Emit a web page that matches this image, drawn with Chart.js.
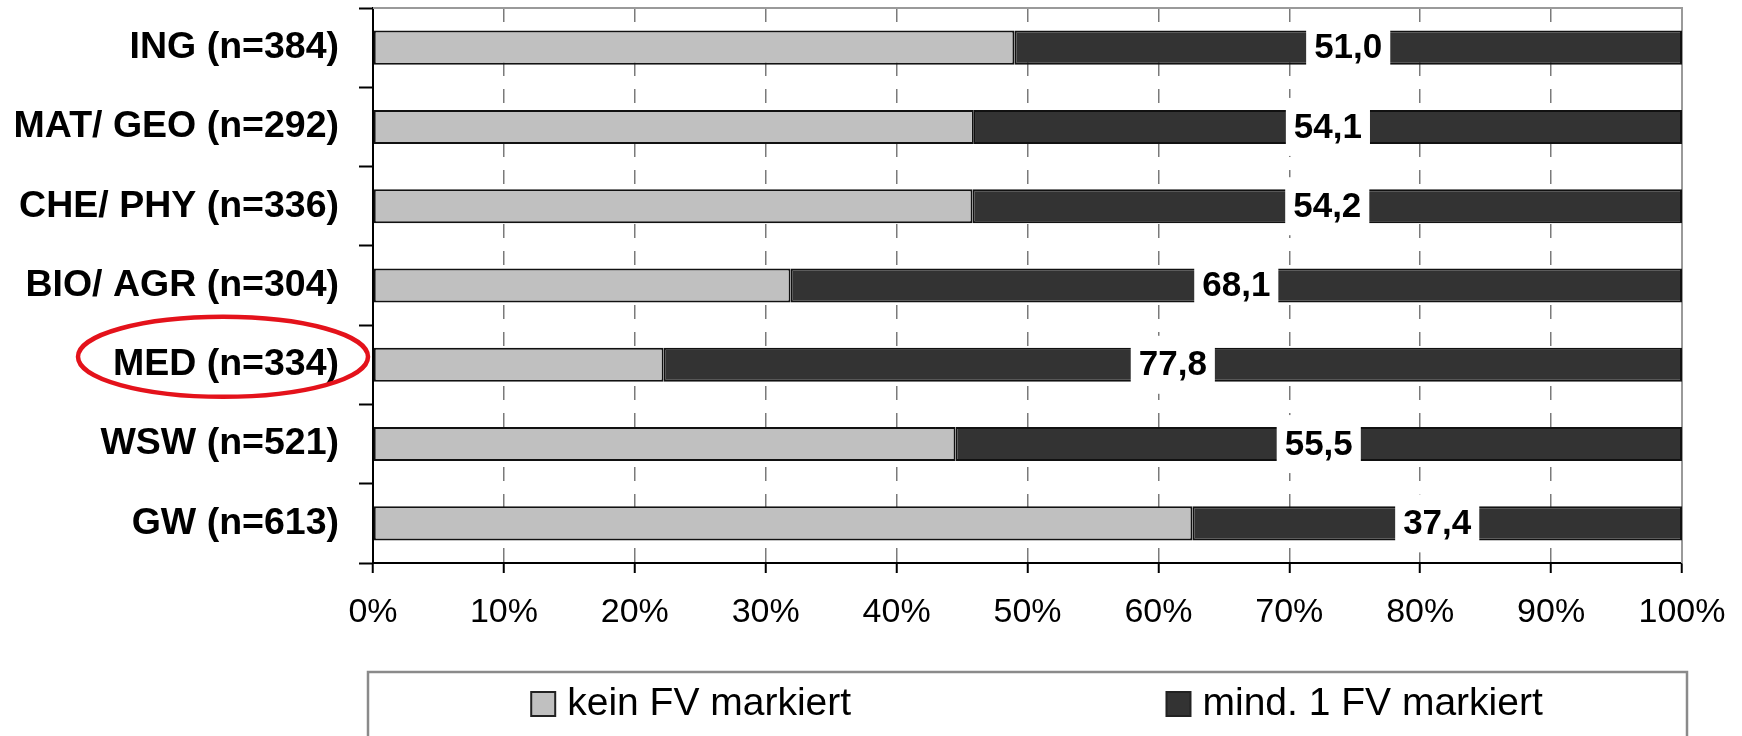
<!DOCTYPE html>
<html><head><meta charset="utf-8">
<script src="https://cdn.jsdelivr.net/npm/chart.js@4.4.1/dist/chart.umd.min.js"></script>
<style>html,body{margin:0;padding:0;background:#fff;}canvas{display:block}</style>
</head><body>
<canvas id="c" width="1742" height="736"></canvas>
<script>
// ---- data ----
const categories = ['ING (n=384)', 'MAT/ GEO (n=292)', 'CHE/ PHY (n=336)', 'BIO/ AGR (n=304)', 'MED (n=334)', 'WSW (n=521)', 'GW (n=613)'];
const keinFV = [49.0, 45.9, 45.8, 31.9, 22.2, 44.5, 62.6];
const mind1FV = [51.0, 54.1, 54.2, 68.1, 77.8, 55.5, 37.4];
const seriesNames = ['kein FV markiert', 'mind. 1 FV markiert'];
const xTickValues = [0, 10, 20, 30, 40, 50, 60, 70, 80, 90, 100];
const highlightedCategory = 'MED (n=334)';

const FONT = '"Liberation Sans", Arial, sans-serif';

const framePlugin = {
  id: 'frame',
  beforeDatasetsDraw(chart) {
    const {ctx, chartArea: a} = chart;
    ctx.save();
    ctx.strokeStyle = '#9a9a9a';
    ctx.lineWidth = 2;
    ctx.beginPath();
    ctx.moveTo(a.left, a.top);
    ctx.lineTo(a.right, a.top);
    ctx.lineTo(a.right, a.bottom);
    ctx.stroke();
    ctx.restore();
  }
};

const valueLabelPlugin = {
  id: 'valueLabels',
  afterDatasetsDraw(chart) {
    const {ctx} = chart;
    const meta = chart.getDatasetMeta(1);
    ctx.save();
    ctx.font = 'bold 35px ' + FONT;
    ctx.textAlign = 'center';
    ctx.textBaseline = 'middle';
    meta.data.forEach((el, i) => {
      const p = el.getProps(['x', 'base', 'y'], true);
      const cx = (p.x + p.base) / 2;
      const txt = mind1FV[i].toFixed(1).replace('.', ',');
      const w = ctx.measureText(txt).width + 16;
      ctx.fillStyle = '#ffffff';
      ctx.fillRect(cx - w / 2, p.y - 29, w, 58);
      ctx.fillStyle = '#000000';
      ctx.fillText(txt, cx, p.y + 1);
    });
    ctx.restore();
  }
};

const ellipsePlugin = {
  id: 'ellipse',
  afterDraw(chart) {
    const {ctx} = chart;
    const ys = chart.scales.y;
    const idx = categories.indexOf(highlightedCategory);
    const cy = ys.getPixelForValue(idx) - 8;
    ctx.save();
    ctx.strokeStyle = '#e4121b';
    ctx.lineWidth = 4.5;
    ctx.beginPath();
    ctx.ellipse(223, cy, 145, 40, 0, 0, Math.PI * 2);
    ctx.stroke();
    ctx.restore();
  }
};

const legendBoxPlugin = {
  id: 'legendBox',
  afterDraw(chart) {
    const {ctx, chartArea: a} = chart;
    const left = a.left - 5, right = a.right + 5, top = 672;
    ctx.save();
    ctx.strokeStyle = '#8a8a8a';
    ctx.lineWidth = 2.5;
    ctx.strokeRect(left, top, right - left, 120);
    ctx.font = '39px ' + FONT;
    ctx.textBaseline = 'middle';
    ctx.textAlign = 'left';
    const cy = 704;
    chart.data.datasets.forEach((ds, i) => {
      const tw = ctx.measureText(ds.label).width;
      const itemW = 24 + 12 + tw;
      const center = left + (right - left) * (i === 0 ? 0.245 : 0.748);
      const x0 = center - itemW / 2;
      ctx.fillStyle = ds.backgroundColor;
      ctx.fillRect(x0, cy - 12, 24, 24);
      ctx.strokeStyle = '#222';
      ctx.lineWidth = 2;
      ctx.strokeRect(x0, cy - 12, 24, 24);
      ctx.fillStyle = '#000';
      ctx.fillText(ds.label, x0 + 36, cy);
    });
    ctx.restore();
  }
};

new Chart(document.getElementById('c'), {
  type: 'bar',
  data: {
    labels: categories,
    datasets: [
      { label: seriesNames[0], data: keinFV, backgroundColor: '#c0c0c0', borderColor: '#111', borderWidth: 2, borderSkipped: false },
      { label: seriesNames[1], data: mind1FV, backgroundColor: '#333333', borderColor: '#111', borderWidth: 2, borderSkipped: false }
    ]
  },
  options: {
    indexAxis: 'y',
    responsive: false,
    animation: false,
    devicePixelRatio: 1,
    layout: { padding: { top: 8, right: 60, left: 0, bottom: 0 } },
    categoryPercentage: 1,
    barPercentage: 0.43,
    plugins: { legend: { display: false }, tooltip: { enabled: false } },
    scales: {
      x: {
        stacked: true,
        min: 0, max: 100,
        afterBuildTicks(scale) { scale.ticks = xTickValues.map(v => ({ value: v })); },
        afterFit(scale) { scale.height = 173; scale.paddingLeft = 0; scale.paddingRight = 0; },
        ticks: {
          callback: v => v + '%',
          color: '#000',
          font: { family: FONT, size: 34 },
          padding: 19,
          maxRotation: 0
        },
        grid: {
          color: '#7a7a7a',
          lineWidth: 1.5,
          tickColor: '#000',
          tickWidth: 2,
          tickLength: 10,
          tickBorderDash: []
        },
        border: { display: true, color: '#000', width: 2, dash: [14, 13] }
      },
      y: {
        stacked: true,
        afterFit(scale) { scale.width = 373; scale.paddingTop = 0; scale.paddingBottom = 0; },
        ticks: {
          color: '#000',
          font: { family: FONT, size: 37.5, weight: 'bold' },
          padding: 20
        },
        grid: {
          offset: true,
          drawOnChartArea: false,
          color: '#000',
          tickColor: '#000',
          tickWidth: 2,
          tickLength: 14
        },
        border: { display: true, color: '#000', width: 2 }
      }
    }
  },
  plugins: [framePlugin, valueLabelPlugin, ellipsePlugin, legendBoxPlugin]
});
</script>
</body></html>
